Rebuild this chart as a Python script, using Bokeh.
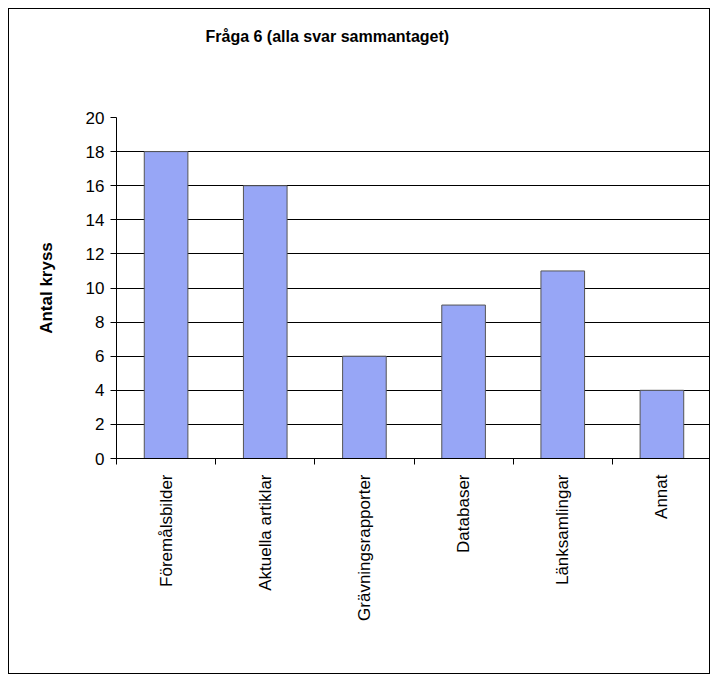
from bokeh.plotting import figure
from bokeh.models import FixedTicker, ColumnDataSource, Range1d, Title
from bokeh.embed import file_html
from bokeh.resources import INLINE
from math import pi

categories = ["Föremålsbilder", "Aktuella artiklar", "Grävningsrapporter", "Databaser", "Länksamlingar", "Annat"]
counts = [18, 16, 6, 9, 11, 4]
y_ticks = [0, 2, 4, 6, 8, 10, 12, 14, 16, 18, 20]
title_text = "Fråga 6 (alla svar sammantaget)"
y_label = "Antal kryss"

W, H = 702, 666
p = figure(width=W, height=H, output_backend="svg", toolbar_location=None,
           x_range=Range1d(0, len(categories)), y_range=Range1d(0, 20),
           min_border_left=107, min_border_right=0, min_border_top=108, min_border_bottom=217)
p.styles = {"border": "1px solid black", "margin": "8px"}
p.outline_line_color = None
p.background_fill_color = "white"
p.border_fill_color = "white"

xs = [i + 0.5 for i in range(len(categories))]
src = ColumnDataSource(dict(x=xs, top=counts))
p.vbar(x="x", top="top", bottom=0, width=0.44, source=src,
       fill_color="#97A6F6", line_color="#555555", line_width=1)

FONT = "Liberation Sans"
# spacer between the frame and the title (keeps the title near the top edge)
spacer = Title(text=" ", text_font_size="1px", standoff=53)
p.add_layout(spacer, "above")

# title
p.title.text = title_text
p.title.align = "left"
p.title.offset = 89
p.title.standoff = 33
p.title.text_font = FONT
p.title.text_font_style = "bold"
p.title.text_font_size = "16px"
p.title.text_color = "black"

# x axis
p.xaxis.ticker = FixedTicker(ticks=xs, minor_ticks=list(range(len(categories) + 1)))
p.xaxis.major_label_overrides = {x: c for x, c in zip(xs, categories)}
p.xaxis.major_label_orientation = pi / 2
p.xaxis.major_tick_out = 0
p.xaxis.major_tick_in = 0
p.xaxis.minor_tick_out = 6
p.xaxis.minor_tick_in = 0
p.xaxis.minor_tick_line_color = "black"
p.xaxis.axis_line_color = "black"
p.xaxis.major_label_text_font = FONT
p.xaxis.major_label_text_font_size = "17px"
p.xaxis.major_label_text_color = "black"
p.xaxis.major_label_standoff = 10

# y axis
p.yaxis.ticker = FixedTicker(ticks=y_ticks)
p.yaxis.major_tick_out = 6
p.yaxis.major_tick_in = 0
p.yaxis.minor_tick_line_color = None
p.yaxis.axis_line_color = "black"
p.yaxis.major_tick_line_color = "black"
p.yaxis.major_label_text_font = FONT
p.yaxis.major_label_text_font_size = "17px"
p.yaxis.major_label_text_color = "black"
p.yaxis.major_label_standoff = 6
p.yaxis.axis_label = y_label
p.yaxis.axis_label_text_font = FONT
p.yaxis.axis_label_text_font_style = "bold"
p.yaxis.axis_label_text_font_size = "17px"
p.yaxis.axis_label_text_color = "black"
p.yaxis.axis_label_standoff = 27

p.xgrid.grid_line_color = None
p.ygrid.ticker = FixedTicker(ticks=y_ticks[1:])
p.ygrid.grid_line_color = "black"
p.ygrid.grid_line_width = 1

open("out.html", "w").write(file_html(p, INLINE))
